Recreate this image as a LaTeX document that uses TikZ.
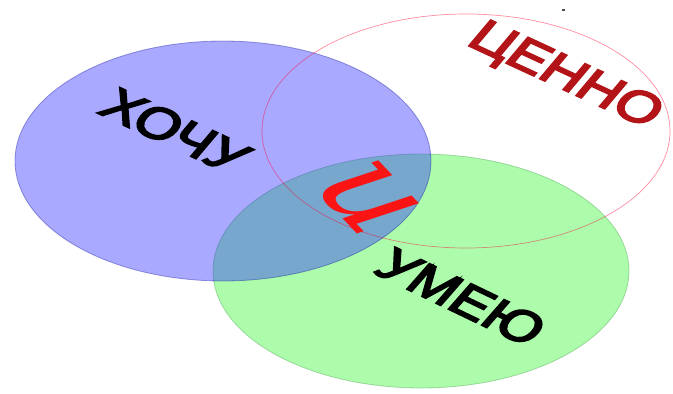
\documentclass[tikz,border=0pt]{standalone}
\usepackage{fontspec}
\setmainfont{Liberation Sans}
\newfontfamily\wordfont{Liberation Sans}[FakeBold=4]
\newfontfamily\cursivefont{DejaVu Serif}
\definecolor{gfill}{RGB}{172,252,172}
\definecolor{bfill}{RGB}{40,40,255}
\definecolor{cred}{RGB}{178,20,24}
\definecolor{ired}{RGB}{250,20,20}
\tikzset{
  word/.style={font=\wordfont\fontsize{44}{44}\selectfont, inner sep=0pt, transform shape},
}
\begin{document}
\begin{tikzpicture}[x=1pt,y=-1pt]
\useasboundingbox (0,0) rectangle (673,394);
\fill[white] (0,0) rectangle (673,394);
% green
\draw[fill=gfill, draw=green!40!black, draw opacity=0.25, line width=0.8pt] (421,271) ellipse [x radius=208, y radius=117];
% blue
\draw[fill=bfill, fill opacity=0.4, draw=blue!60!black, draw opacity=0.35, line width=0.8pt] (223,161) ellipse [x radius=208, y radius=120];
% value ellipse
\draw[draw=red!80!magenta, draw opacity=0.45, line width=0.7pt] (466,131) ellipse [x radius=204, y radius=117];
% speck
\fill[black!70] (562,9) rectangle (565,10.5);
\begin{scope}[xscale=1.35]
\node[word, rotate=-32] (want) at (129.6,131) {ХОЧУ};
\node[word, rotate=-32, text=cred] (value) at (418,77) {ЦЕННО};
\node[word, rotate=-33] (can) at (341.5,297) {УМЕЮ};
\node[inner sep=0pt, text=ired, rotate=-55, transform shape, font=\cursivefont\itshape\fontsize{106}{106}\selectfont] (and) at (272,198) {и};
\end{scope}
\end{tikzpicture}
\end{document}
